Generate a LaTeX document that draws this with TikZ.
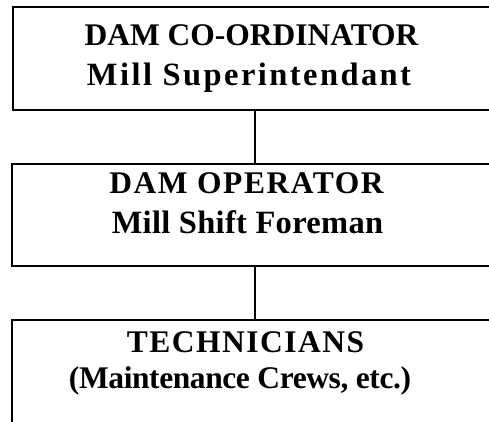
\documentclass[tikz,border=0pt]{standalone}
\usepackage{fontspec}
\setmainfont{Liberation Serif}
\newcommand{\lsp}[2]{{\addfontfeatures{LetterSpace=#1}#2}}
\begin{document}
\begin{tikzpicture}[x=1pt,y=1pt,
  box/.style={draw=black, line width=2.8pt, rectangle, inner sep=0pt},
  lbl/.style={anchor=base, inner sep=0pt, font=\fontsize{31.5}{38}\selectfont\bfseries},
  lblb/.style={anchor=base, inner sep=0pt, font=\fontsize{32.5}{38}\selectfont\bfseries},
  link/.style={draw=black, line width=2pt}]
\useasboundingbox (0,0) rectangle (489,-421);
\clip (0,0) rectangle (489,-421);
\fill[white] (0,0) rectangle (489,-421);
% boxes
\node[box, minimum width=490pt, minimum height=103pt] (b1) at (258,-58.5) {};
\node[box, minimum width=490pt, minimum height=102pt] (b2) at (257,-215) {};
\node[box, minimum width=490pt, minimum height=130pt] (b3) at (257,-385) {};
% texts
\node[lbl] (t1a) at (251.5,-45) {DAM CO-ORDINATOR};
\node[lblb] (t1b) at (249,-85) {\lsp{7.5}{Mill Superintendant}};
\node[lbl] (t2a) at (246.5,-193) {\lsp{5}{DAM OPERATOR}};
\node[lblb] (t2b) at (247.5,-233) {\lsp{1}{Mill Shift Foreman}};
\node[lbl] (t3a) at (245.5,-352) {\lsp{4.8}{TECHNICIANS}};
\node[lbl] (t3b) at (240,-388) {\lsp{-1.3}{(Maintenance Crews, etc.)}};
% connectors
\coordinate (cx) at (255,0);
\draw[link] (b1.south -| cx) -- (b2.north -| cx);
\draw[link] (b2.south -| cx) -- (b3.north -| cx);
\end{tikzpicture}
\end{document}
